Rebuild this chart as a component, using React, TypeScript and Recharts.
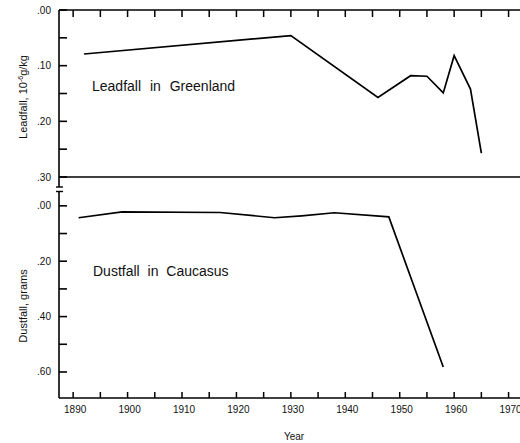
import React from 'react';
import { LineChart, Line, XAxis, YAxis, ReferenceLine } from 'recharts';

const leadYears = [1892, 1930, 1946, 1952, 1955, 1958, 1960, 1963, 1965];
const leadValues = [0.079, 0.046, 0.157, 0.118, 0.119, 0.149, 0.082, 0.142, 0.257];
const dustYears = [1891, 1899, 1917, 1927, 1932, 1938, 1948, 1958];
const dustValues = [0.043, 0.022, 0.024, 0.043, 0.036, 0.025, 0.04, 0.582];

const yearTicks = [1890, 1895, 1900, 1905, 1910, 1915, 1920, 1925, 1930, 1935, 1940, 1945, 1950, 1955, 1960, 1965, 1970];
const leadTicks = [0, 0.05, 0.1, 0.15, 0.2, 0.25, 0.3];
const leadLabels = [0, 0.1, 0.2, 0.3];
const dustTicks = [0, 0.1, 0.2, 0.3, 0.4, 0.5, 0.6];
const dustLabels = [0, 0.2, 0.4, 0.6];

const leadData = leadYears.map((year, i) => ({ year, value: leadValues[i] }));
const dustData = dustYears.map((year, i) => ({ year, value: dustValues[i] }));

const FONT = '"Liberation Sans", Arial, sans-serif';
const X_DOMAIN: [number, number] = [1887.4, 1972.1];

const fmt = (v: number) => v.toFixed(2).replace(/^0/, '');
const isIn = (arr: number[], v: number) => arr.some((a) => Math.abs(a - v) < 1e-9);

const makeLeftTick = (labels: number[]) => (props: any) => {
  const { x, y, payload } = props;
  const v = Number(payload.value);
  return (
    <g>
      <line x1={x} x2={x + 8} y1={y} y2={y} stroke="#000" strokeWidth={1.6} />
      {isIn(labels, v) && (
        <text x={x - 8} y={y + 3.5} textAnchor="end" fontSize={10} fill="#111" fontFamily={FONT}>
          {fmt(v)}
        </text>
      )}
    </g>
  );
};

const RightTick = (props: any) => {
  const { x, y } = props;
  return <line x1={x} x2={x - 7} y1={y} y2={y} stroke="#000" strokeWidth={1.6} />;
};

const TopTick = (props: any) => {
  const { x, y } = props;
  return <line x1={x} x2={x} y1={y} y2={y + 7} stroke="#000" strokeWidth={1.5} />;
};

const BottomTick = (props: any) => {
  const { x, y, payload } = props;
  const v = Number(payload.value);
  return (
    <g>
      <line x1={x} x2={x} y1={y} y2={y - 6} stroke="#000" strokeWidth={1.5} />
      {v % 10 === 0 && (
        <text x={x + 2} y={y + 15} textAnchor="middle" fontSize={10} fill="#111" fontFamily={FONT}>
          {v}
        </text>
      )}
    </g>
  );
};

export default function App() {
  return (
    <div style={{ position: 'absolute', left: 0, top: 0, width: 520, height: 443, background: '#fff' }}>
      <div style={{ position: 'absolute', left: 0, top: 0 }}>
        <LineChart width={520} height={190} data={leadData} margin={{ top: 0, right: 0, bottom: 13, left: 0 }}>
          <XAxis
            type="number"
            dataKey="year"
            orientation="top"
            height={10}
            domain={X_DOMAIN}
            allowDataOverflow
            ticks={yearTicks}
            interval={0}
            tickSize={0}
            tickMargin={0}
            tickLine={false}
            tick={TopTick}
            axisLine={{ stroke: '#000', strokeWidth: 1.6 }}
          />
          <YAxis
            yAxisId="l"
            type="number"
            width={59}
            reversed
            domain={[0, 0.3]}
            allowDataOverflow
            ticks={leadTicks}
            interval={0}
            tickSize={0}
            tickMargin={0}
            tickLine={false}
            tick={makeLeftTick(leadLabels)}
            axisLine={{ stroke: '#000', strokeWidth: 1.6 }}
          />
          <YAxis
            yAxisId="r"
            orientation="right"
            type="number"
            width={0}
            reversed
            domain={[0, 0.3]}
            allowDataOverflow
            ticks={leadTicks}
            interval={0}
            tickSize={0}
            tickMargin={0}
            tickLine={false}
            tick={RightTick}
            axisLine={false}
          />
          <ReferenceLine yAxisId="l" y={0.3} stroke="#000" strokeWidth={1.6} />
          <Line
            yAxisId="l"
            type="linear"
            dataKey="value"
            stroke="#000"
            strokeWidth={1.7}
            dot={false}
            isAnimationActive={false}
          />
        </LineChart>
      </div>
      <div style={{ position: 'absolute', left: 0, top: 0 }}>
        <LineChart width={520} height={443} data={dustData} margin={{ top: 192, right: 0, bottom: 0, left: 0 }}>
          <XAxis
            type="number"
            dataKey="year"
            orientation="bottom"
            height={45}
            domain={X_DOMAIN}
            allowDataOverflow
            ticks={yearTicks}
            interval={0}
            tickSize={0}
            tickMargin={0}
            tickLine={false}
            tick={BottomTick}
            axisLine={{ stroke: '#000', strokeWidth: 1.6 }}
          />
          <YAxis
            yAxisId="l"
            type="number"
            width={59}
            reversed
            domain={[-0.05, 0.694]}
            allowDataOverflow
            ticks={dustTicks}
            interval={0}
            tickSize={0}
            tickMargin={0}
            tickLine={false}
            tick={makeLeftTick(dustLabels)}
            axisLine={{ stroke: '#000', strokeWidth: 1.6 }}
          />
          <YAxis
            yAxisId="r"
            orientation="right"
            type="number"
            width={0}
            reversed
            domain={[-0.05, 0.694]}
            allowDataOverflow
            ticks={dustTicks}
            interval={0}
            tickSize={0}
            tickMargin={0}
            tickLine={false}
            tick={RightTick}
            axisLine={false}
          />
          <Line
            yAxisId="l"
            type="linear"
            dataKey="value"
            stroke="#000"
            strokeWidth={1.7}
            dot={false}
            isAnimationActive={false}
          />
        </LineChart>
      </div>
      <svg
        width={520}
        height={443}
        style={{ position: 'absolute', left: 0, top: 0, pointerEvents: 'none' }}
      >
        <line x1={59} x2={59} y1={177} y2={187} stroke="#000" strokeWidth={1.6} />
        <line x1={56} x2={63} y1={187} y2={187} stroke="#000" strokeWidth={1.4} />
        <line x1={56} x2={63} y1={191.5} y2={191.5} stroke="#000" strokeWidth={1.4} />
        <text x={92} y={90.5} fontSize={14} wordSpacing={5} fill="#111" fontFamily={FONT}>
          Leadfall in Greenland
        </text>
        <text x={93} y={275.5} fontSize={14} wordSpacing={4} fill="#111" fontFamily={FONT}>
          Dustfall in Caucasus
        </text>
        <text
          transform="translate(27,97) rotate(-90)"
          textAnchor="middle"
          fontSize={11}
          fill="#111"
          fontFamily={FONT}
        >
          Leadfall, 10<tspan fontSize={7} dy={-4}>-6</tspan>
          <tspan dy={4}>g/kg</tspan>
        </text>
        <text
          transform="translate(27,306) rotate(-90)"
          textAnchor="middle"
          fontSize={11}
          fill="#111"
          fontFamily={FONT}
        >
          Dustfall, grams
        </text>
        <text x={294} y={440} textAnchor="middle" fontSize={10} fill="#111" fontFamily={FONT}>
          Year
        </text>
      </svg>
    </div>
  );
}
